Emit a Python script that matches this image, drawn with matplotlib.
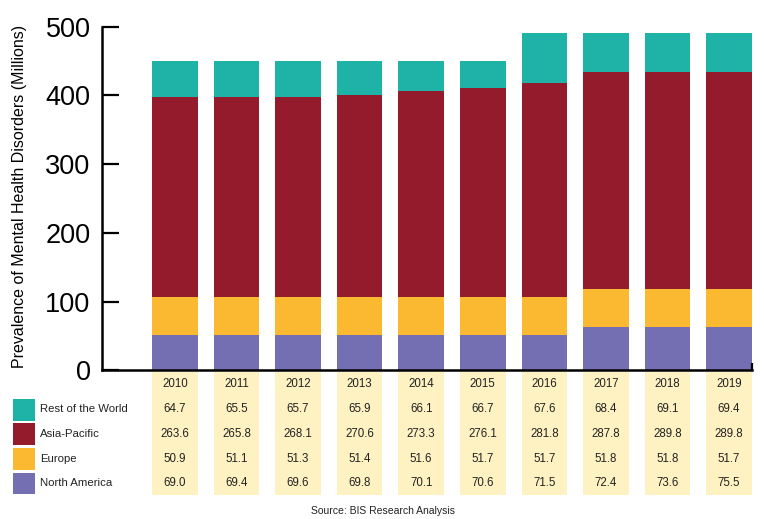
import matplotlib
matplotlib.use("Agg")
import matplotlib.pyplot as plt
from matplotlib.patches import Rectangle
import matplotlib.transforms as mtransforms
import numpy as np

plt.rcParams['font.family'] = ['Liberation Sans', 'DejaVu Sans']

# data
years = ['2010', '2011', '2012', '2013', '2014', '2015', '2016', '2017', '2018', '2019']
regions = ['Rest of the World', 'Asia-Pacific', 'Europe', 'North America']

# table values (as printed)
row_world = [64.7, 65.5, 65.7, 65.9, 66.1, 66.7, 67.6, 68.4, 69.1, 69.4]
asia_pacific = [263.6, 265.8, 268.1, 270.6, 273.3, 276.1, 281.8, 287.8, 289.8, 289.8]
europe = [50.9, 51.1, 51.3, 51.4, 51.6, 51.7, 51.7, 51.8, 51.8, 51.7]
north_america = [69.0, 69.4, 69.6, 69.8, 70.1, 70.6, 71.5, 72.4, 73.6, 75.5]

# bar segment heights as drawn in the chart
bar_na = [51.4, 51.4, 51.4, 51.4, 51.4, 51.4, 51.4, 63.0, 63.0, 63.0]
bar_eu = [55.7, 55.7, 55.7, 55.7, 55.7, 55.7, 55.7, 55.3, 55.3, 55.3]
bar_ap = [290.7, 290.7, 290.7, 293.7, 299.9, 303.9, 311.1, 315.9, 315.9, 315.9]
bar_row = [52.4, 52.4, 52.4, 49.4, 43.2, 39.2, 73.1, 57.1, 57.1, 57.1]

colors = {'Rest of the World': '#1fb3a7', 'Asia-Pacific': '#941b2c',
          'Europe': '#fab930', 'North America': '#746fb3'}

W, H = 764, 519
fig = plt.figure(figsize=(W / 100, H / 100), dpi=100)

def fx(px):
    return px / W

def fy(py):
    return (H - py) / H

ax = fig.add_axes([fx(101.7), fy(370.3), fx(752) - fx(101.7), fy(26.7) - fy(370.3)])

x = np.arange(len(years))
bw = 0.74
bottom = np.zeros(len(years))
for name, vals in [('North America', bar_na), ('Europe', bar_eu),
                   ('Asia-Pacific', bar_ap), ('Rest of the World', bar_row)]:
    ax.bar(x, vals, bw, bottom=bottom, color=colors[name], linewidth=0)
    bottom += np.array(vals)

ax.set_xlim(-1.19, 9.373)
ax.set_ylim(0, 500)
ax.set_yticks([0, 100, 200, 300, 400, 500])
ax.tick_params(axis='y', direction='in', length=12, width=1.6, pad=8, labelsize=19.5)
ax.set_xticks([9.373])
ax.set_xticklabels([''])
ax.tick_params(axis='x', direction='in', length=5, width=1.6)
for s in ['top', 'right']:
    ax.spines[s].set_visible(False)
for s in ['left', 'bottom']:
    ax.spines[s].set_linewidth(1.8)

fig.text(fx(20), fy(196), 'Prevalence of Mental Health Disorders (Millions)',
         rotation=90, ha='center', va='center', fontsize=11.5)

# data table below the bars
trans = mtransforms.blended_transform_factory(ax.transData, fig.transFigure)
for i in range(len(years)):
    ax.add_patch(Rectangle((x[i] - bw / 2, fy(495)), bw, fy(371.5) - fy(495),
                           transform=trans, color='#fff2c2', clip_on=False,
                           linewidth=0, zorder=0))

row_y = [384, 409.3, 434, 458.7, 483.3]
table_rows = [row_world, asia_pacific, europe, north_america]
for i, yr in enumerate(years):
    ax.text(x[i], fy(row_y[0]), yr, transform=trans, ha='center', va='center',
            fontsize=8.3, color='#222222')
    for r, vals in enumerate(table_rows):
        ax.text(x[i], fy(row_y[r + 1]), f'{vals[i]:.1f}', transform=trans,
                ha='center', va='center', fontsize=8.3, color='#222222')

sq_top = [399.3, 423.3, 448, 472.7]
for r, name in enumerate(regions):
    fig.patches.append(Rectangle((fx(13.3), fy(sq_top[r] + 21.5)), fx(21.4), fy(sq_top[r]) - fy(sq_top[r] + 21.5),
                                 transform=fig.transFigure, color=colors[name], linewidth=0))
    fig.text(fx(40), fy(row_y[r + 1]), name, ha='left', va='center', fontsize=8.2, color='#222222')

fig.text(fx(383), fy(511), 'Source: BIS Research Analysis', ha='center', va='center',
         fontsize=7.5, color='#222222')

fig.savefig('out.png', dpi=100)
